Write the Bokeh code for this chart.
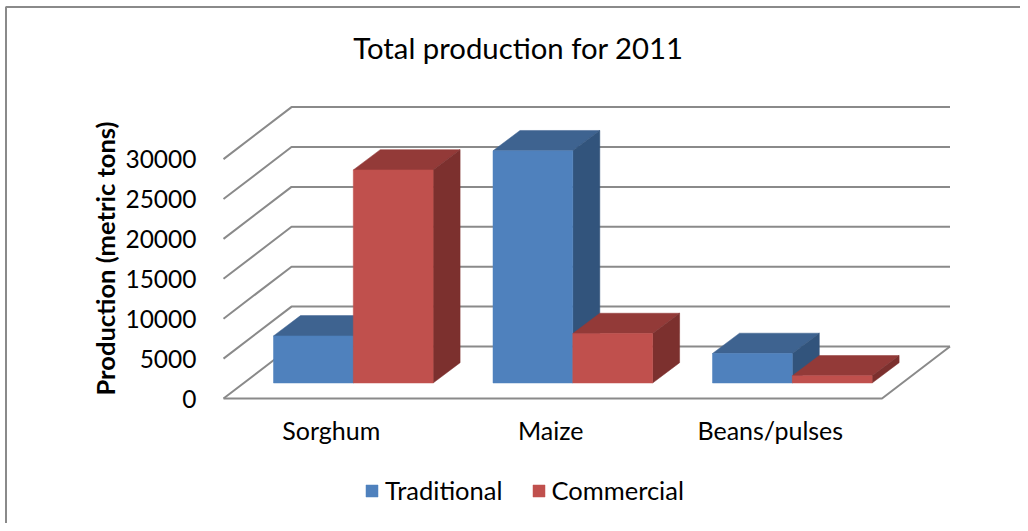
import math
from bokeh.embed import file_html
from bokeh.models import FixedTicker, Legend, LegendItem, LinearAxis, Range1d
from bokeh.plotting import figure
from bokeh.core.properties import value
from bokeh.resources import INLINE

categories = ["Sorghum", "Maize", "Beans/pulses"]
traditional = [5900, 29100, 3700]
commercial = [26700, 6200, 900]
y_ticks = [0, 5000, 10000, 15000, 20000, 25000, 30000]
title_text = "Total production for 2011"
y_title = "Production (metric tons)"

FONT = "Lato"
W, H = 1020, 523
PX_PER_CAT = 219.5
PX_PER_UNIT = 7.98 / 1000
X0_PX, Y0_PX = 352.8, 398.0


def xu(px):
    return (px - X0_PX) / PX_PER_CAT


def yu(py):
    return (Y0_PX - py) / PX_PER_UNIT


p = figure(width=W, height=H, output_backend="svg", toolbar_location=None,
           x_range=Range1d(xu(0), xu(W)), y_range=Range1d(yu(H), yu(0)),
           min_border=0, outline_line_color=None, background_fill_color="white",
           border_fill_color="white", x_axis_type=None, y_axis_type=None)
p.xgrid.visible = False
p.ygrid.visible = False

GRID = "#8a8a8a"
wall_dx = xu(291.0) - xu(223.0)
wall_dy = 52 / PX_PER_UNIT
left = xu(223.0)
right_back = xu(949.5)
right_front = xu(881.5)

# chart border
p.line([xu(5.5), xu(5.5), xu(W)], [yu(H), yu(6.5), yu(6.5)], line_color=GRID, line_width=2)

# walls and floor
for t in y_ticks:
    p.line([left, left + wall_dx, right_back], [t, t + wall_dy, t + wall_dy],
           line_color=GRID, line_width=2)
p.line([left, right_front, right_back], [0, 0, wall_dy], line_color=GRID, line_width=2)

# 3D bars
bar_w = 79.8 / PX_PER_CAT
bar_dx = 27 / PX_PER_CAT
bar_dy = 20.3 / PX_PER_UNIT
base = (Y0_PX - 382.5) / PX_PER_UNIT
series = [
    (traditional, -bar_w, "#4F81BD", "#3E6390", "#32547C"),
    (commercial, 0.0, "#C0504D", "#933A38", "#7C302E"),
]
front_renderers = []
for vals, off, front, top_c, side_c in series:
    ls = [i + off for i in range(len(vals))]
    rs = [l + bar_w for l in ls]
    tops = [base + v for v in vals]
    p.patches([[l, l + bar_dx, r + bar_dx, r] for l, r in zip(ls, rs)],
              [[t, t + bar_dy, t + bar_dy, t] for t in tops],
              fill_color=top_c, line_color=top_c, line_width=0.5)
    p.patches([[r, r + bar_dx, r + bar_dx, r] for r in rs],
              [[base, base + bar_dy, t + bar_dy, t] for t in tops],
              fill_color=side_c, line_color=side_c, line_width=0.5)
    front_renderers.append(
        p.quad(left=ls, right=rs, bottom=[base] * len(vals), top=tops,
               fill_color=front, line_color=front, line_width=0.5))

# value axis
yax = LinearAxis(fixed_location=left, ticker=FixedTicker(ticks=y_ticks),
                 axis_line_color=None, major_tick_line_color=None,
                 minor_tick_line_color=None, major_label_standoff=21,
                 major_label_text_font=FONT, major_label_text_font_size="24.5px",
                 major_label_text_color="#000000")
p.add_layout(yax, "left")

# category axis
cat_ticks = [i - 22 / PX_PER_CAT for i in range(len(categories))]
xax = LinearAxis(fixed_location=0, ticker=FixedTicker(ticks=cat_ticks),
                 major_label_overrides={t: c for t, c in zip(cat_ticks, categories)},
                 axis_line_color=None, major_tick_line_color=None,
                 minor_tick_line_color=None, major_label_standoff=10,
                 major_label_text_font=FONT, major_label_text_font_size="25px",
                 major_label_text_color="#000000")
p.add_layout(xax, "below")

# titles
p.text([xu(518)], [yu(47)], text=[title_text], text_font=value(FONT),
       text_font_size="29.3px", text_align="center", text_baseline="middle", text_color="#000000")
p.text([xu(104)], [yu(258)], text=[y_title], text_font=value(FONT),
       text_font_size="25.5px", text_font_style="bold", angle=math.pi / 2,
       text_align="center", text_baseline="middle", text_color="#000000")

# legend
legend = Legend(items=[LegendItem(label="Traditional", renderers=[front_renderers[0]]),
                       LegendItem(label="Commercial", renderers=[front_renderers[1]])],
                orientation="horizontal", location=(364, 18),
                glyph_width=15, glyph_height=15, label_standoff=6, spacing=28,
                padding=0, margin=0, background_fill_alpha=0, border_line_color=None,
                label_text_font=FONT, label_text_font_size="25.5px", label_text_color="#000000")
p.add_layout(legend, "center")

open("out.html", "w").write(file_html(p, INLINE))
